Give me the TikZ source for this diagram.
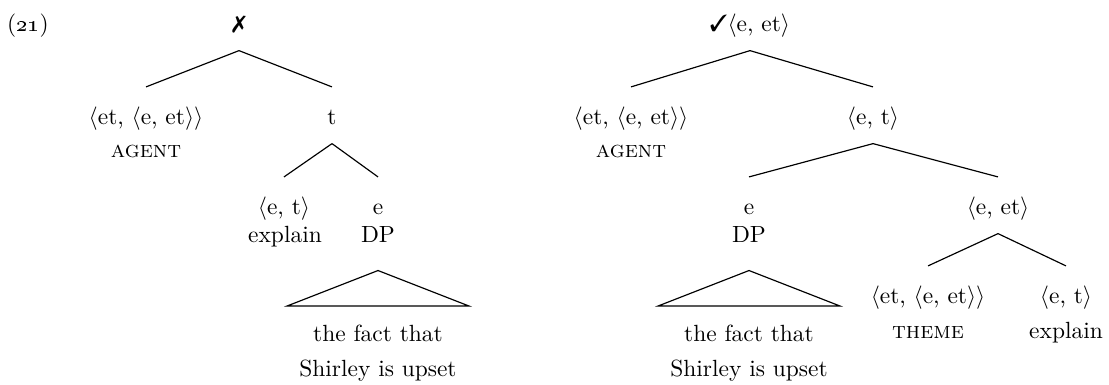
\documentclass[tikz,border=0pt]{standalone}
\usepackage{pifont}
\begin{document}
\begin{tikzpicture}[x=0.015cm, y=-0.015cm, line width=0.5pt,
    ty/.style={anchor=base, inner sep=0pt, text height=16pt, text depth=7.7pt},
    wd/.style={anchor=base, inner sep=0pt, text depth=11.5pt},
    roof/.style={anchor=north, align=center, inner xsep=5pt, inner ysep=8pt}]
  \useasboundingbox (0,0) rectangle (1109,385);
  \node[anchor=base] (exnum) at (28,32) {(\oldstylenums{21})};

  % left tree
  \node[ty] (rootL) at (239,32) {\ding{55}};
  \node[ty] (agL) at (146,125) {$\langle$et, $\langle$e, et$\rangle\rangle$};
  \node[wd] (agLw) at (146,158) {\textsc{agent}};
  \node[ty] (tL) at (332,125) {t};
  \node[ty] (etL) at (284,215) {$\langle$e, t$\rangle$};
  \node[wd] (explL) at (285,243) {explain};
  \node[ty] (eL) at (378,215) {e};
  \node[wd] (dpL) at (378,243) {DP};
  \node[roof] (factL) at (378,306) {the fact that\\[3pt]Shirley is upset};

  % right tree
  \node[ty] (rootR) at (750,32) {\ding{51}$\langle$e, et$\rangle$};
  \node[ty] (agR) at (631,125) {$\langle$et, $\langle$e, et$\rangle\rangle$};
  \node[wd] (agRw) at (631,158) {\textsc{agent}};
  \node[ty] (etR) at (873,125) {$\langle$e, t$\rangle$};
  \node[ty] (eR) at (749,215) {e};
  \node[wd] (dpR) at (749,243) {DP};
  \node[roof] (factR) at (749,306) {the fact that\\[3pt]Shirley is upset};
  \node[ty] (eetR) at (998,215) {$\langle$e, et$\rangle$};
  \node[ty] (thR) at (928,304) {$\langle$et, $\langle$e, et$\rangle\rangle$};
  \node[wd] (thRw) at (928,339) {\textsc{theme}};
  \node[ty] (etR2) at (1066,304) {$\langle$e, t$\rangle$};
  \node[wd] (explR) at (1066,339) {explain};

  % branches
  \foreach \p/\c in {rootL/agL, rootL/tL, tL/etL, tL/eL,
                     rootR/agR, rootR/etR, etR/eR, etR/eetR, eetR/thR, eetR/etR2} {
     \draw (\p.south) -- (\c.north);
  }
  % roofs over the DPs
  \foreach \d/\f in {dpL/factL, dpR/factR} {
     \draw (\d.south) -- (\f.north west) -- (\f.north east) -- cycle;
  }
\end{tikzpicture}
\end{document}
